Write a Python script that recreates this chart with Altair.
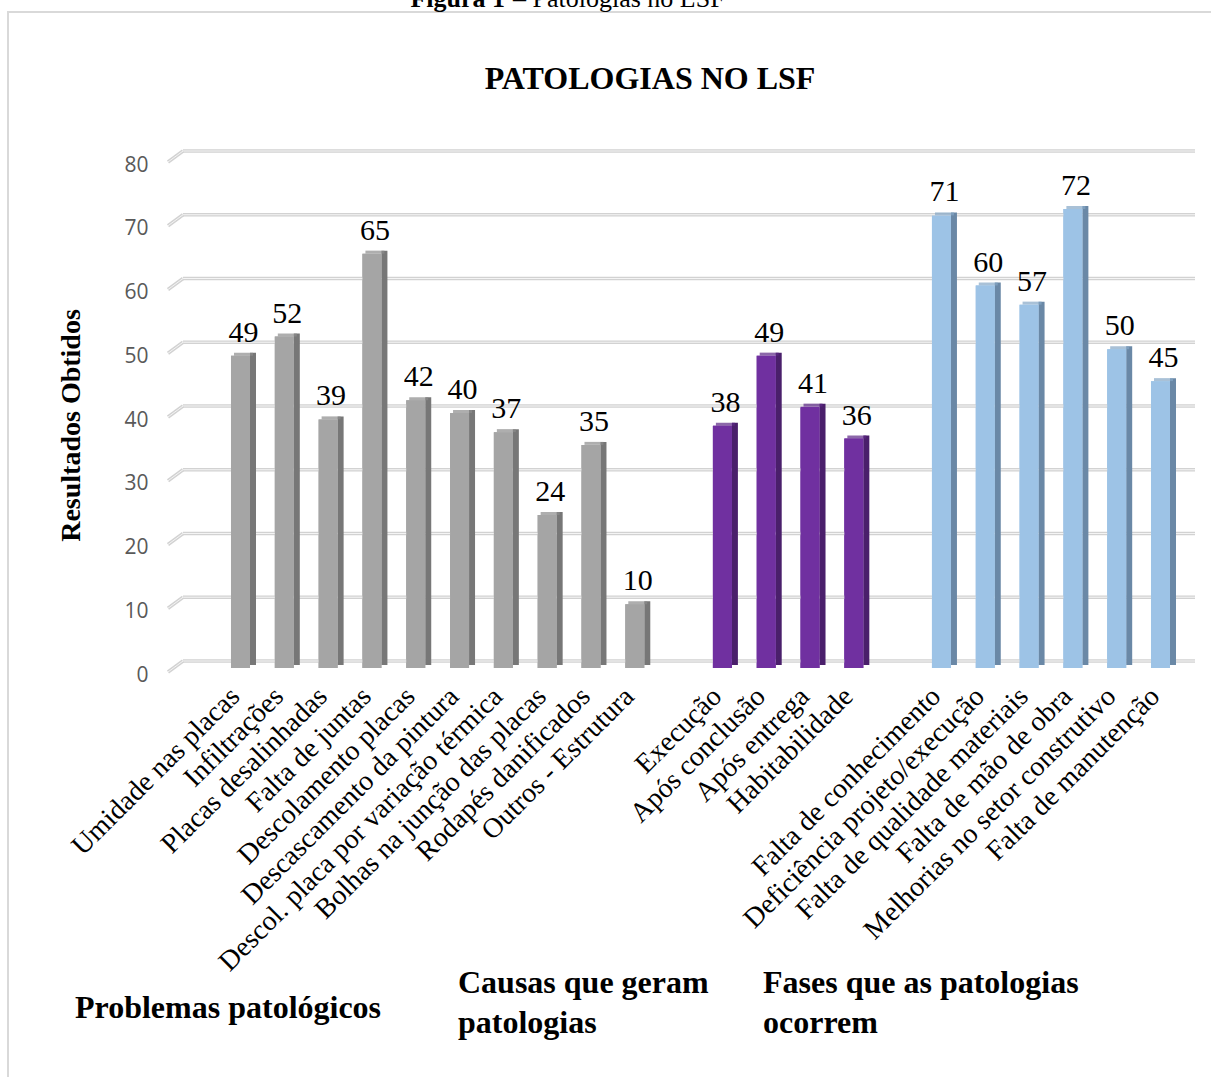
import altair as alt
import pandas as pd

# ---- data ----
cats_prob = ["Umidade nas placas", "Infiltrações", "Placas desalinhadas", "Falta de juntas",
             "Descolamento placas", "Descascamento da pintura",
             "Descol. placa por variação térmica", "Bolhas na junção das placas",
             "Rodapés danificados", "Outros - Estrutura"]
vals_prob = [49, 52, 39, 65, 42, 40, 37, 24, 35, 10]

cats_causas = ["Execução", "Após conclusão", "Após entrega", "Habitabilidade"]
vals_causas = [38, 49, 41, 36]

cats_fases = ["Falta de conhecimento", "Deficiência projeto/execução",
              "Falta de qualidade materiais", "Falta de mão de obra",
              "Melhorias no setor construtivo", "Falta de manutenção"]
vals_fases = [71, 60, 57, 72, 50, 45]

groups = ["Problemas", "Causas", "Fases"]
front_colors = ["#A5A5A5", "#7030A0", "#9DC3E6"]
side_colors = ["#777777", "#4A1F6B", "#6A88A6"]
top_colors = ["#8C8C8C", "#5B2884", "#84A6C6"]

y_ticks = [0, 10, 20, 30, 40, 50, 60, 70, 80]

title_text = "PATOLOGIAS NO LSF"
y_title = "Resultados Obtidos"

# ---- table ----
df = pd.DataFrame({
    "cat": cats_prob + cats_causas + cats_fases,
    "val": vals_prob + vals_causas + vals_fases,
    "grp": [groups[0]] * len(cats_prob) + [groups[1]] * len(cats_causas) + [groups[2]] * len(cats_fases),
})
domain = cats_prob + [" "] + cats_causas + ["  "] + cats_fases

W, H = 971, 510
SERIF = "Liberation Serif"

yscale = alt.Scale(domain=[0, 80], nice=False, zero=True)
xscale = alt.Scale(domain=domain, paddingInner=0.566, paddingOuter=0.365)

x_axis = alt.Axis(labelAngle=-45, labelAlign="right", labelBaseline="middle",
                  labelFont=SERIF, labelFontSize=28, labelColor="#000000",
                  labelPadding=24, labelOffset=-5, domain=False, ticks=False, grid=False,
                  labelOverlap=False, labelLimit=600, title=None)

y_axis = alt.Axis(values=y_ticks, grid=False, domain=False, ticks=False, tickSize=0,
                  labelPadding=67, labelFont="Open Sans", labelFontSize=21,
                  labelColor="#595959", labelOffset=7,
                  title=y_title, titleFont=SERIF, titleFontSize=28,
                  titleFontWeight="bold", titleColor="#000000",
                  titleAngle=-90, titleAlign="center", titleBaseline="middle",
                  titleX=-144, titleY=267)

xe = alt.X("cat:N", scale=xscale, sort=domain, axis=x_axis)
ye = alt.Y("val:Q", scale=yscale, axis=y_axis)

one = pd.DataFrame({"k": [0]})
grid_df = pd.DataFrame({"t": y_ticks})

# frame
frame = alt.Chart(one).mark_rect(fillOpacity=0, stroke="#D9D9D9", strokeWidth=2).encode(
    x=alt.value(8 - 215), x2=alt.value(1300), y=alt.value(12 - 158), y2=alt.value(1200))

# gridlines (3D style)
gy = alt.Y("t:Q", scale=yscale, axis=y_axis)
grid_h_outer = alt.Chart(grid_df).mark_rule(color="#D2D2D2", strokeWidth=3.5, yOffset=-7).encode(
    y=gy, x=alt.value(-32), x2=alt.value(980))
grid_h_inner = alt.Chart(grid_df).mark_rule(color="#F4F4F4", strokeWidth=1, yOffset=-7).encode(
    y=gy, x=alt.value(-32), x2=alt.value(980))
grid_s_outer = alt.Chart(grid_df).mark_rule(color="#D2D2D2", strokeWidth=3.5, yOffset=4, y2Offset=-7).encode(
    y=gy, y2="t:Q", x=alt.value(-47), x2=alt.value(-32))
grid_s_inner = alt.Chart(grid_df).mark_rule(color="#F4F4F4", strokeWidth=1, yOffset=4, y2Offset=-7).encode(
    y=gy, y2="t:Q", x=alt.value(-47), x2=alt.value(-32))

# bars (front, side face, top face)
side = alt.Chart(df).mark_bar(width=6, xOffset=12.5, yOffset=-3, y2Offset=-3).encode(
    x=xe, y=ye, y2=alt.datum(0),
    color=alt.Color("grp:N", scale=alt.Scale(domain=groups, range=side_colors), legend=None))

top = alt.Chart(df).mark_tick(size=19, thickness=3, xOffset=3, yOffset=-1.5).encode(
    x=xe, y=ye,
    color=alt.Color("grp:N", scale=alt.Scale(domain=groups, range=top_colors), legend=None))

front = alt.Chart(df).mark_bar().encode(
    x=xe, y=ye,
    color=alt.Color("grp:N", scale=alt.Scale(domain=groups, range=front_colors), legend=None))

labels = alt.Chart(df).mark_text(font=SERIF, fontSize=30, color="#000000",
                                 baseline="alphabetic", dy=-14, dx=3).encode(
    x=xe, y=ye, text="val:Q")

# free texts
def txt(text, x, y, size, weight="normal", align="left"):
    return alt.Chart(one).mark_text(text=text, font=SERIF, fontSize=size, fontWeight=weight,
                                    align=align, baseline="alphabetic", color="#000000",
                                    lineHeight=40).encode(x=alt.value(x - 215), y=alt.value(y - 158))

title = txt(title_text, 650, 89, 32, "bold", "center")
cap1 = txt("Figura 1", 505, 7, 26, "bold", "right")
cap2 = txt("– Patologias no LSF", 513, 7, 26, "normal", "left")
g1 = txt("Problemas patológicos", 75, 1018, 32, "bold")
g2 = txt(["Causas que geram", "patologias"], 458, 993, 32, "bold")
g3 = txt(["Fases que as patologias", "ocorrem"], 763, 993, 32, "bold")

chart = alt.layer(
    front, frame, grid_h_outer, grid_h_inner, grid_s_outer, grid_s_inner,
    side, top, front, labels, title, cap1, cap2, g1, g2, g3
).resolve_scale(color="independent").properties(
    width=W, height=H, background="#FFFFFF",
    padding={"left": 215, "top": 158, "right": 25, "bottom": 409},
    autosize=alt.AutoSizeParams(type="none"),
).configure_view(stroke="transparent", strokeWidth=0)

chart.save("out.html", embed_options={"renderer": "svg", "actions": False})
